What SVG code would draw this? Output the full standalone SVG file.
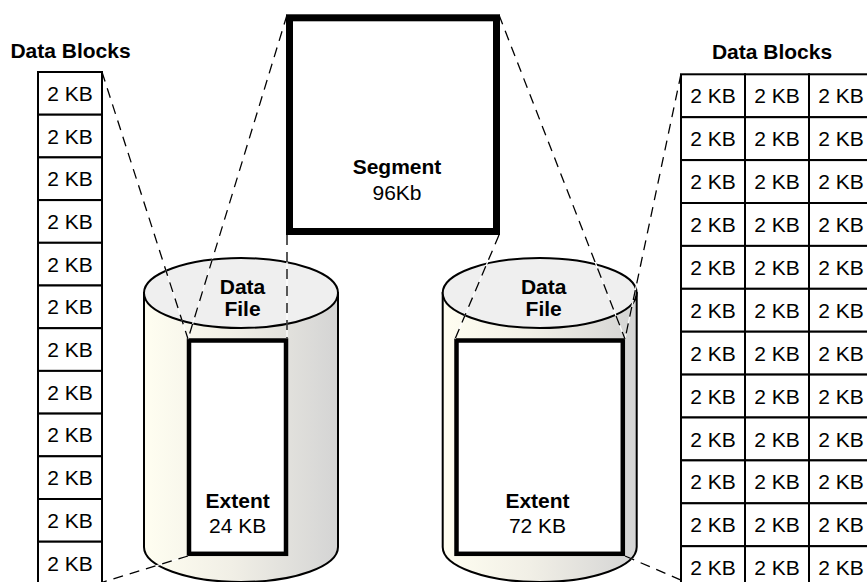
<svg xmlns="http://www.w3.org/2000/svg" width="867" height="582" viewBox="0 0 867 582">
<defs>
<linearGradient id="cylBody" x1="0" y1="0" x2="1" y2="0">
<stop offset="0" stop-color="#fffef1"/>
<stop offset="0.45" stop-color="#f1efe6"/>
<stop offset="1" stop-color="#d4d4d4"/>
</linearGradient>
<style>
text{font-family:"Liberation Sans",Arial,Helvetica,sans-serif;font-size:21px;fill:#000;text-anchor:middle}
.b{font-weight:bold}
.blk rect{fill:#fff;stroke:#000;stroke-width:2}
.body{fill:url(#cylBody);stroke:#000;stroke-width:2}
.top{fill:#efefef;stroke:#000;stroke-width:2}
.ext{fill:#fff;stroke:#000;stroke-width:4.5}
.seg{fill:#fff;stroke:#000;stroke-width:7}
.under{stroke:#fff;stroke-width:1.2;fill:none}
.dash{stroke:#000;stroke-width:1.3;fill:none;stroke-dasharray:10 7}
</style>
</defs>
<rect width="867" height="582" fill="#fff"/>

<g id="datafile-left">
<path class="body" d="M144,293 L144,547 A97,35 0 0 0 338,547 L338,293 Z"/>
<ellipse class="top" cx="241" cy="293" rx="97" ry="35"/>
<text class="b" x="242.5" y="294">Data</text>
<text class="b" x="242.5" y="316">File</text>
</g>
<g id="extent-left">
<rect class="ext" x="189" y="340.5" width="97" height="213.3"/>
<text class="b" x="237.7" y="508">Extent</text>
<text x="237.7" y="533">24 KB</text>
</g>

<g id="datafile-right">
<path class="body" d="M442.7,293 L442.7,547 A97,35 0 0 0 636.7,547 L636.7,293 Z"/>
<ellipse class="top" cx="539.7" cy="293" rx="97" ry="35"/>
<text class="b" x="543.7" y="294">Data</text>
<text class="b" x="543.7" y="316">File</text>
</g>
<g id="extent-right">
<rect class="ext" x="456.5" y="340.5" width="166.3" height="213.3"/>
<text class="b" x="537.5" y="508">Extent</text>
<text x="537.5" y="533">72 KB</text>
</g>

<g id="connectors">
<g class="under">
<line x1="102" y1="72" x2="188" y2="339"/>
<line x1="100" y1="583" x2="188" y2="556"/>
<line x1="287" y1="15" x2="188" y2="339"/>
<line x1="287" y1="235" x2="287" y2="339"/>
<line x1="499" y1="15" x2="625" y2="339"/>
<line x1="499" y1="235" x2="455" y2="339"/>
<line x1="681" y1="74" x2="625" y2="339"/>
<line x1="683" y1="581" x2="625" y2="556"/>
</g>
<g class="dash">
<line x1="102" y1="72" x2="188" y2="339"/>
<line x1="188" y1="556" x2="100" y2="583"/>
<line x1="287" y1="15" x2="188" y2="339"/>
<line x1="287" y1="235" x2="287" y2="339"/>
<line x1="499" y1="15" x2="625" y2="339"/>
<line x1="499" y1="235" x2="455" y2="339"/>
<line x1="681" y1="74" x2="625" y2="339"/>
<line x1="625" y1="556" x2="683" y2="581"/>
</g>
</g>

<g id="segment">
<rect class="seg" x="289.5" y="17.8" width="207" height="213.7"/>
<text class="b" x="397" y="174">Segment</text>
<text x="397" y="200">96Kb</text>
</g>

<g id="label-left"><text class="b" x="70.5" y="58">Data Blocks</text></g>
<g id="label-right"><text class="b" x="772" y="58.5">Data Blocks</text></g>

<g id="blocks-left" class="blk">
<g id="bl1"><rect x="38" y="72" width="64" height="42.7"/><text x="70" y="100.8">2 KB</text></g>
<g id="bl2"><rect x="38" y="114.7" width="64" height="42.7"/><text x="70" y="143.5">2 KB</text></g>
<g id="bl3"><rect x="38" y="157.4" width="64" height="42.7"/><text x="70" y="186.2">2 KB</text></g>
<g id="bl4"><rect x="38" y="200.1" width="64" height="42.7"/><text x="70" y="228.9">2 KB</text></g>
<g id="bl5"><rect x="38" y="242.8" width="64" height="42.7"/><text x="70" y="271.6">2 KB</text></g>
<g id="bl6"><rect x="38" y="285.5" width="64" height="42.7"/><text x="70" y="314.3">2 KB</text></g>
<g id="bl7"><rect x="38" y="328.2" width="64" height="42.7"/><text x="70" y="357">2 KB</text></g>
<g id="bl8"><rect x="38" y="370.9" width="64" height="42.7"/><text x="70" y="399.7">2 KB</text></g>
<g id="bl9"><rect x="38" y="413.6" width="64" height="42.7"/><text x="70" y="442.4">2 KB</text></g>
<g id="bl10"><rect x="38" y="456.3" width="64" height="42.7"/><text x="70" y="485.1">2 KB</text></g>
<g id="bl11"><rect x="38" y="499" width="64" height="42.7"/><text x="70" y="527.8">2 KB</text></g>
<g id="bl12"><rect x="38" y="541.7" width="64" height="42.7"/><text x="70" y="570.5">2 KB</text></g>
</g>

<g id="blocks-right" class="blk">
<g id="br1a"><rect x="681" y="74.3" width="64" height="42.9"/><text x="713" y="103.3">2 KB</text></g>
<g id="br1b"><rect x="745" y="74.3" width="64" height="42.9"/><text x="777" y="103.3">2 KB</text></g>
<g id="br1c"><rect x="809" y="74.3" width="64" height="42.9"/><text x="841" y="103.3">2 KB</text></g>
<g id="br2a"><rect x="681" y="117.2" width="64" height="42.9"/><text x="713" y="146.2">2 KB</text></g>
<g id="br2b"><rect x="745" y="117.2" width="64" height="42.9"/><text x="777" y="146.2">2 KB</text></g>
<g id="br2c"><rect x="809" y="117.2" width="64" height="42.9"/><text x="841" y="146.2">2 KB</text></g>
<g id="br3a"><rect x="681" y="160.1" width="64" height="42.9"/><text x="713" y="189.1">2 KB</text></g>
<g id="br3b"><rect x="745" y="160.1" width="64" height="42.9"/><text x="777" y="189.1">2 KB</text></g>
<g id="br3c"><rect x="809" y="160.1" width="64" height="42.9"/><text x="841" y="189.1">2 KB</text></g>
<g id="br4a"><rect x="681" y="203" width="64" height="42.9"/><text x="713" y="232">2 KB</text></g>
<g id="br4b"><rect x="745" y="203" width="64" height="42.9"/><text x="777" y="232">2 KB</text></g>
<g id="br4c"><rect x="809" y="203" width="64" height="42.9"/><text x="841" y="232">2 KB</text></g>
<g id="br5a"><rect x="681" y="245.9" width="64" height="42.9"/><text x="713" y="274.9">2 KB</text></g>
<g id="br5b"><rect x="745" y="245.9" width="64" height="42.9"/><text x="777" y="274.9">2 KB</text></g>
<g id="br5c"><rect x="809" y="245.9" width="64" height="42.9"/><text x="841" y="274.9">2 KB</text></g>
<g id="br6a"><rect x="681" y="288.8" width="64" height="42.9"/><text x="713" y="317.8">2 KB</text></g>
<g id="br6b"><rect x="745" y="288.8" width="64" height="42.9"/><text x="777" y="317.8">2 KB</text></g>
<g id="br6c"><rect x="809" y="288.8" width="64" height="42.9"/><text x="841" y="317.8">2 KB</text></g>
<g id="br7a"><rect x="681" y="331.7" width="64" height="42.9"/><text x="713" y="360.7">2 KB</text></g>
<g id="br7b"><rect x="745" y="331.7" width="64" height="42.9"/><text x="777" y="360.7">2 KB</text></g>
<g id="br7c"><rect x="809" y="331.7" width="64" height="42.9"/><text x="841" y="360.7">2 KB</text></g>
<g id="br8a"><rect x="681" y="374.6" width="64" height="42.9"/><text x="713" y="403.6">2 KB</text></g>
<g id="br8b"><rect x="745" y="374.6" width="64" height="42.9"/><text x="777" y="403.6">2 KB</text></g>
<g id="br8c"><rect x="809" y="374.6" width="64" height="42.9"/><text x="841" y="403.6">2 KB</text></g>
<g id="br9a"><rect x="681" y="417.5" width="64" height="42.9"/><text x="713" y="446.5">2 KB</text></g>
<g id="br9b"><rect x="745" y="417.5" width="64" height="42.9"/><text x="777" y="446.5">2 KB</text></g>
<g id="br9c"><rect x="809" y="417.5" width="64" height="42.9"/><text x="841" y="446.5">2 KB</text></g>
<g id="br10a"><rect x="681" y="460.4" width="64" height="42.9"/><text x="713" y="489.4">2 KB</text></g>
<g id="br10b"><rect x="745" y="460.4" width="64" height="42.9"/><text x="777" y="489.4">2 KB</text></g>
<g id="br10c"><rect x="809" y="460.4" width="64" height="42.9"/><text x="841" y="489.4">2 KB</text></g>
<g id="br11a"><rect x="681" y="503.3" width="64" height="42.9"/><text x="713" y="532.3">2 KB</text></g>
<g id="br11b"><rect x="745" y="503.3" width="64" height="42.9"/><text x="777" y="532.3">2 KB</text></g>
<g id="br11c"><rect x="809" y="503.3" width="64" height="42.9"/><text x="841" y="532.3">2 KB</text></g>
<g id="br12a"><rect x="681" y="546.2" width="64" height="42.9"/><text x="713" y="575.2">2 KB</text></g>
<g id="br12b"><rect x="745" y="546.2" width="64" height="42.9"/><text x="777" y="575.2">2 KB</text></g>
<g id="br12c"><rect x="809" y="546.2" width="64" height="42.9"/><text x="841" y="575.2">2 KB</text></g>
</g>
</svg>
